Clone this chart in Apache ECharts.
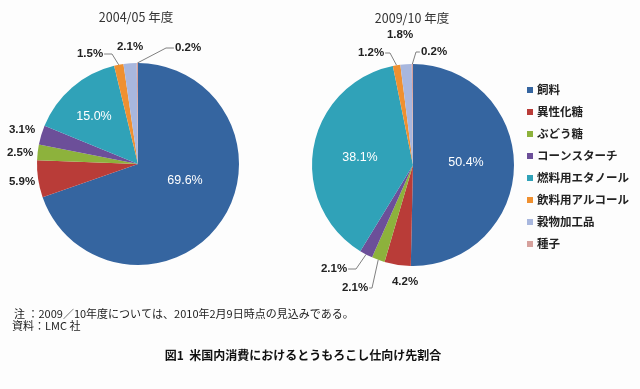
<!DOCTYPE html>
<html>
<head>
<meta charset="utf-8">
<script src="https://cdn.jsdelivr.net/npm/echarts@6/dist/echarts.min.js"></script>
<style>
html,body{margin:0;padding:0;background:#fdfdfd;}
#chart{width:640px;height:389px;}
</style>
</head>
<body>
<div id="chart"></div>
<script>
// ---- data ----
const categories = ['飼料', '異性化糖', 'ぶどう糖', 'コーンスターチ', '燃料用エタノール', '飲料用アルコール', '穀物加工品', '種子'];
const values2004 = [69.6, 5.9, 2.5, 3.1, 15.0, 1.5, 2.1, 0.2];
const values2009 = [50.4, 4.2, 2.1, 2.1, 38.1, 1.2, 1.8, 0.2];
const pieTitles = ['2004/05 年度', '2009/10 年度'];
const noteText = '注 ：2009／10年度については、2010年2月9日時点の見込みである。';
const sourceText = '資料：LMC 社';
const captionText = '図1  米国内消費におけるとうもろこし仕向け先割合';

// ---- styles / layout ----
const colors = ['#3565a0', '#b93c38', '#8db23c', '#6c4f99', '#30a2b8', '#ef9030', '#a8b7de', '#d6a19d'];
const pies = [
  { values: values2004, center: [138, 164], r: 101,
    // label offsets from pie center; inside: white text; elbowX: leader-line elbow x offset
    labels: [
      { d: [47, 17], inside: true },
      { d: [-116, 18] },
      { d: [-118, -11] },
      { d: [-116, -34] },
      { d: [-44, -47], inside: true },
      { d: [-48, -110], elbowX: -26 },
      { d: [-8, -117] },
      { d: [50, -116], elbowX: 28 }
    ] },
  { values: values2009, center: [413, 165], r: 101,
    labels: [
      { d: [53, -2], inside: true },
      { d: [-8, 117] },
      { d: [-58, 123], elbowX: -41 },
      { d: [-79, 104], elbowX: -57 },
      { d: [-53, -7], inside: true },
      { d: [-42, -112], elbowX: -23 },
      { d: [-13, -130] },
      { d: [21, -113], elbowX: 3 }
    ] }
];

function fmt(v) { return v.toFixed(1) + '%'; }

function makeSeries(p, si) {
  const total = p.values.reduce((a, b) => a + b, 0);
  const cum = [];
  let acc = 0;
  p.values.forEach(v => { cum.push(acc + v / 2); acc += v; });
  const data = p.values.map((v, i) => {
    const L = p.labels[i];
    return {
      name: categories[i],
      value: v,
      label: L.inside
        ? { position: 'inside', color: '#ffffff', fontSize: 12.5, fontWeight: 'normal' }
        : { position: 'outside' },
      labelLine: { show: L.elbowX !== undefined }
    };
  });
  return {
    type: 'pie',
    center: p.center,
    radius: [0, p.r],
    startAngle: 90,
    clockwise: true,
    avoidLabelOverlap: false,
    animation: false,
    silent: true,
    itemStyle: { borderWidth: 0 },
    label: {
      formatter: prm => fmt(prm.value),
      fontFamily: 'Liberation Sans, Arial, sans-serif',
      fontSize: 11.5,
      fontWeight: 'bold',
      color: '#222'
    },
    labelLine: { lineStyle: { color: '#808080', width: 1 }, length: 8, length2: 8 },
    labelLayout: function (params) {
      const i = params.dataIndex;
      const L = p.labels[i];
      const x = p.center[0] + L.d[0];
      const y = p.center[1] + L.d[1];
      const res = { x: x, y: y, align: 'center', verticalAlign: 'middle' };
      if (L.elbowX !== undefined) {
        const ang = cum[i] / total * 2 * Math.PI;
        const ex = p.center[0] + p.r * Math.sin(ang);
        const ey = p.center[1] - p.r * Math.cos(ang);
        const bx = p.center[0] + L.elbowX;
        const w = params.labelRect ? params.labelRect.width : 24;
        const endX = bx < x ? x - w / 2 - 1 : x + w / 2 + 1;
        res.labelLinePoints = [[ex, ey], [bx, y], [endX, y]];
      }
      return res;
    },
    data: data
  };
}

const chart = echarts.init(document.getElementById('chart'), null, { renderer: 'canvas' });
chart.setOption({
  backgroundColor: '#fdfdfd',
  color: colors,
  animation: false,
  legend: {
    orient: 'vertical',
    left: 527,
    top: 83,
    data: categories,
    icon: 'rect',
    itemWidth: 6,
    itemHeight: 6,
    itemGap: 8,
    padding: 0,
    selectedMode: false,
    textStyle: {
      fontFamily: 'Noto Sans CJK JP',
      fontSize: 11.5,
      fontWeight: 'bold',
      color: '#222',
      lineHeight: 14,
      padding: [0, 0, 0, -1]
    }
  },
  graphic: [
    { type: 'text', x: 136, y: 17, style: { text: pieTitles[0], align: 'center', verticalAlign: 'middle', font: '12.5px "Noto Sans CJK JP", sans-serif', fill: '#333' } },
    { type: 'text', x: 412, y: 18, style: { text: pieTitles[1], align: 'center', verticalAlign: 'middle', font: '12.5px "Noto Sans CJK JP", sans-serif', fill: '#333' } },
    { type: 'text', x: 14, y: 314, style: { text: noteText, align: 'left', verticalAlign: 'middle', font: '11px "Noto Sans CJK JP", sans-serif', fill: '#222' } },
    { type: 'text', x: 12, y: 326, style: { text: sourceText, align: 'left', verticalAlign: 'middle', font: '11px "Noto Sans CJK JP", sans-serif', fill: '#222' } },
    { type: 'text', x: 303, y: 355, style: { text: captionText, align: 'center', verticalAlign: 'middle', font: 'bold 12px "Noto Sans CJK JP", sans-serif', fill: '#111' } }
  ],
  series: pies.map(makeSeries)
});
</script>
</body>
</html>
